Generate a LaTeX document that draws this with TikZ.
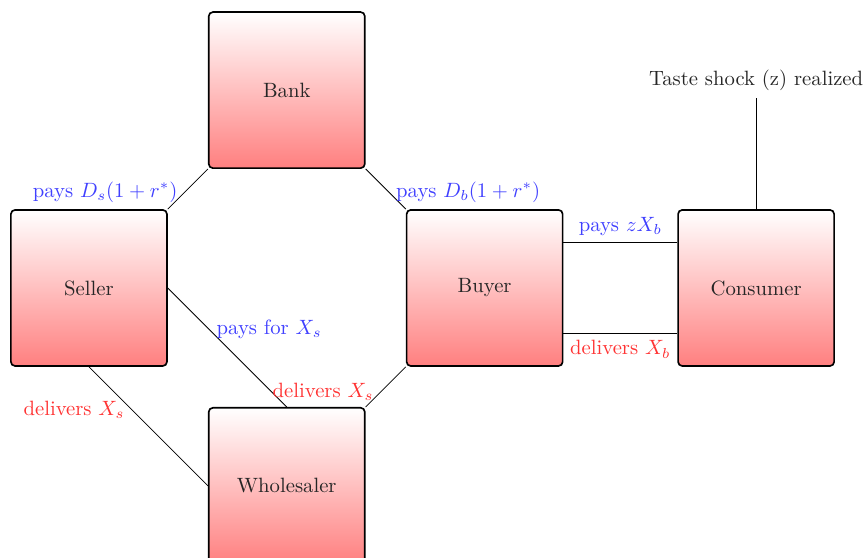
\documentclass[tikz,border=0pt]{standalone}
\usepackage{amsmath}
\usepackage{amssymb}
\usepackage{tikz}
\usepackage{xcolor}

\tikzset{
  agent/.style={draw, thick, rounded corners=2pt, top color=white, bottom color=red!50,
    minimum width=2.65cm, minimum height=2.65cm, text=black!85},
  paylabel/.style={text=blue!75},
  deliverlabel/.style={text=red!80}
}

\begin{document}
\begin{tikzpicture}
\useasboundingbox (0cm,0cm) rectangle (14.74cm,-9.47cm);

\node [agent] (bank) at (4.87cm,-1.53cm) {Bank};
\node [agent] (seller) at (1.51cm,-4.89cm) {Seller};
\node [agent] (buyer) at (8.23cm,-4.89cm) {Buyer};
\node [agent] (consumer) at (12.84cm,-4.89cm) {Consumer};
\node [agent] (wholesaler) at (4.87cm,-8.25cm) {Wholesaler};

\node [text=black!85] (shock) at (12.84cm,-1.36cm) {Taste shock (z) realized};

\draw (bank.south west) -- node [pos=0.58, left, paylabel] {pays $D_s(1+r^*)$} (seller.north east);
\draw (bank.south east) -- node [pos=0.58, right, paylabel] {pays $D_b(1+r^*)$} (buyer.north west);
\draw (seller.east) -- node [pos=0.35, right, paylabel] {pays for $X_s$} (wholesaler.north);
\draw (seller.south) -- node [pos=0.36, left, deliverlabel] {delivers $X_s$} (wholesaler.west);
\draw (buyer.south west) -- node [pos=0.62, left, deliverlabel] {delivers $X_s$} (wholesaler.north east);

\draw ([yshift=0.77cm]buyer.east) -- node [above, paylabel] {pays $zX_b$} ([yshift=0.77cm]consumer.west);
\draw ([yshift=-0.77cm]buyer.east) -- node [below, deliverlabel] {delivers $X_b$} ([yshift=-0.77cm]consumer.west);

\draw (consumer.north) -- (shock.south);

\end{tikzpicture}
\end{document}
